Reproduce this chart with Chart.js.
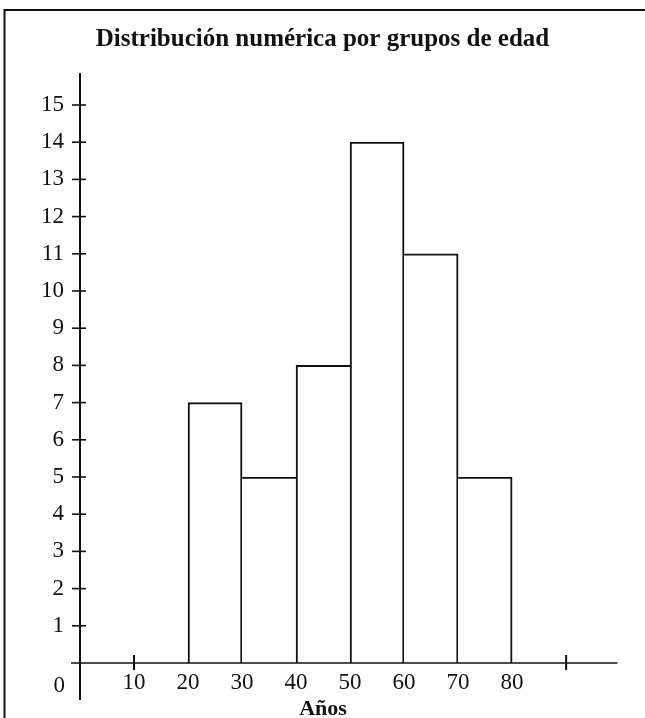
<!DOCTYPE html>
<html>
<head>
<meta charset="utf-8">
<script src="https://cdn.jsdelivr.net/npm/chart.js@4/dist/chart.umd.min.js"></script>
<style>
  html, body { margin: 0; padding: 0; background: #fff; }
  #wrap { width: 645px; height: 718px; }
</style>
</head>
<body>
<div id="wrap"><canvas id="chart"></canvas></div>
<script>
// age groups (lower bound of each 10-year class) and counts
const binStarts = [20, 30, 40, 50, 60, 70]
const binWidth = 10
const counts = [7, 5, 8, 14, 11, 5]

const xTickLabels = [10, 20, 30, 40, 50, 60, 70, 80]
const xCrossTicks = [10, 90]
const yTicks = [1, 2, 3, 4, 5, 6, 7, 8, 9, 10, 11, 12, 13, 14, 15]
const xAxisEnd = 99.5
const xTitleAt = 45

const titleText = 'Distribución numérica por grupos de edad'
const xTitle = 'Años'
const zeroLabel = '0'

const ink = '#111'
const serif = "'Liberation Serif', 'DejaVu Serif', serif"

// each shared edge is drawn once, by the taller neighbour
const edgeWidth = (ctx) => {
  const i = ctx.dataIndex
  const v = counts[i]
  const prev = i > 0 ? counts[i - 1] : 0
  const next = i < counts.length - 1 ? counts[i + 1] : 0
  return {
    top: 2,
    bottom: 0,
    left: v >= prev ? 2 : 0,
    right: v > next ? 2 : 0,
  }
}

const axesPlugin = {
  id: 'axesPlugin',
  afterDraw(chart) {
    const { ctx, scales: { x, y } } = chart
    const x0 = x.getPixelForValue(0)
    const y0 = y.getPixelForValue(0)
    ctx.save()
    ctx.strokeStyle = ink

    // page frame (left and top)
    ctx.lineWidth = 2
    ctx.beginPath()
    ctx.moveTo(4.5, 718)
    ctx.lineTo(4.5, 10)
    ctx.lineTo(645, 10)
    ctx.stroke()

    // y axis, running below the x axis
    ctx.lineWidth = 2
    ctx.beginPath()
    ctx.moveTo(x0, chart.chartArea.top)
    ctx.lineTo(x0, 700)
    ctx.stroke()

    // x axis, starting a little left of the y axis
    ctx.lineWidth = 1.6
    ctx.beginPath()
    ctx.moveTo(x0 - 9, y0)
    ctx.lineTo(x.getPixelForValue(xAxisEnd), y0)
    ctx.stroke()

    // y tick crosses
    ctx.lineWidth = 1.6
    yTicks.forEach(v => {
      const py = y.getPixelForValue(v)
      ctx.beginPath()
      ctx.moveTo(x0 - 8, py)
      ctx.lineTo(x0 + 6, py)
      ctx.stroke()
    })

    // x tick crosses
    ctx.lineWidth = 2
    xCrossTicks.forEach(v => {
      const px = x.getPixelForValue(v)
      ctx.beginPath()
      ctx.moveTo(px, y0 - 8)
      ctx.lineTo(px, y0 + 7)
      ctx.stroke()
    })

    ctx.fillStyle = ink
    ctx.textBaseline = 'alphabetic'

    // lone zero at the corner
    ctx.font = '23px ' + serif
    ctx.textAlign = 'right'
    ctx.fillText(zeroLabel, x0 - 15, y0 + 29)

    // axis name, set under the 40-50 labels
    ctx.font = 'bold 22px ' + serif
    ctx.textAlign = 'center'
    ctx.fillText(xTitle, x.getPixelForValue(xTitleAt), 715)
    ctx.restore()
  }
}

new Chart(document.getElementById('chart'), {
  type: 'bar',
  data: {
    datasets: [{
      data: binStarts.map((s, i) => ({ x: s + binWidth / 2, y: counts[i] })),
      backgroundColor: '#fff',
      borderColor: ink,
      borderWidth: edgeWidth,
      borderSkipped: false,
      barPercentage: 1,
      categoryPercentage: 1,
      grouped: false,
    }]
  },
  options: {
    responsive: true,
    maintainAspectRatio: false,
    animation: false,
    layout: { padding: 0 },
    plugins: {
      legend: { display: false },
      tooltip: { enabled: false },
      title: {
        display: true,
        text: titleText,
        color: ink,
        font: { family: serif, size: 25, weight: 'bold', lineHeight: 1.2 },
        padding: { top: 25, bottom: 18 },
      },
    },
    scales: {
      x: {
        type: 'linear',
        offset: false,
        min: 0,
        max: 104.6,
        grid: { display: false, drawTicks: false, offset: false },
        border: { display: false },
        afterBuildTicks: (scale) => {
          scale.ticks = xTickLabels.map(v => ({ value: v }))
        },
        ticks: {
          autoSkip: false,
          maxRotation: 0,
          padding: 6,
          color: ink,
          font: { family: serif, size: 23 },
        },
        afterFit: (scale) => {
          scale.height = 55
          scale.paddingLeft = 0
          scale.paddingRight = 0
        },
      },
      y: {
        type: 'linear',
        min: 0,
        max: 15.86,
        grid: { display: false, drawTicks: false },
        border: { display: false },
        afterBuildTicks: (scale) => {
          scale.ticks = yTicks.map(v => ({ value: v }))
        },
        ticks: {
          autoSkip: false,
          padding: 16,
          color: ink,
          font: { family: serif, size: 23 },
        },
        afterFit: (scale) => {
          scale.width = 80
          scale.paddingTop = 0
          scale.paddingBottom = 0
        },
      },
    },
  },
  plugins: [axesPlugin],
})
</script>
</body>
</html>
